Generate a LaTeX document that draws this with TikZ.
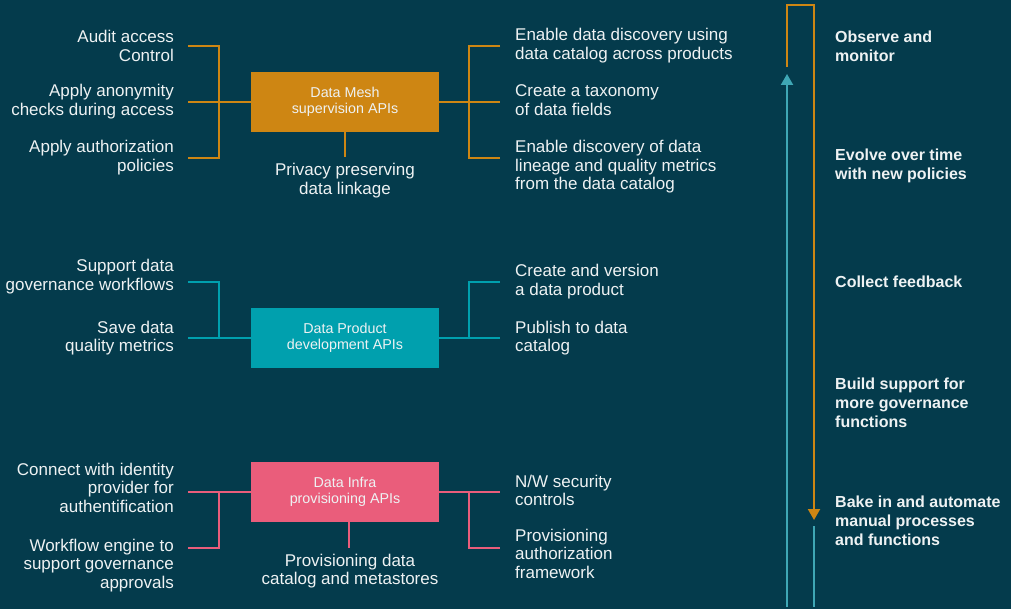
\documentclass[tikz,border=0pt]{standalone}
\usepackage{fontspec}
\setmainfont{Liberation Sans}
\usetikzlibrary{arrows.meta}
\definecolor{bg}{HTML}{043B4C}
\definecolor{fg}{HTML}{EEF2F3}
\definecolor{meshc}{HTML}{CE8613}
\definecolor{prodc}{HTML}{00A0AE}
\definecolor{infrac}{HTML}{EA5D7B}
\definecolor{loopc}{HTML}{3FA7B5}
\tikzset{
  txt/.style={text=fg, inner sep=0pt, font=\fontsize{17}{18.5}\selectfont},
  lefttxt/.style={txt, align=right, anchor=base east},
  righttxt/.style={txt, align=left, anchor=base west},
  midtxt/.style={txt, align=center, anchor=base},
  phase/.style={text=fg, inner sep=0pt, font=\bfseries\fontsize{16}{19}\selectfont, align=left, anchor=base west},
  api/.style={minimum width=188pt, minimum height=60pt, inner sep=0pt, text=fg, align=center, font=\fontsize{14.3}{15.7}\selectfont},
  wire/.style={line width=1.6pt},
  flow/.style={line width=2pt},
  tip/.style={-{Triangle[width=12pt,length=11pt]}},
}
\begin{document}
\begin{tikzpicture}[x=1pt,y=-1pt]
\fill[bg] (0,0) rectangle (1011,609);
\useasboundingbox (0,0) rectangle (1011,609);

% ---------- API boxes ----------
\node[api, fill=meshc]  (mesh)  at (345,102) {Data Mesh\\supervision APIs};
\node[api, fill=prodc]  (prod)  at (345,338) {Data Product\\development APIs};
\node[api, fill=infrac] (infra) at (345,492) {Data Infra\\provisioning APIs};

% ---------- supervision APIs (labels anchored on their last baseline) ----------
\node[lefttxt] (m1) at (174,61.5)  {Audit access\\Control};
\node[lefttxt] (m2) at (174,115.5) {Apply anonymity\\checks during access};
\node[lefttxt] (m3) at (174,171.5) {Apply authorization\\policies};
\node[righttxt] (m4) at (515,59.5)  {Enable data discovery using\\data catalog across products};
\node[righttxt] (m5) at (515,115.5) {Create a taxonomy\\of data fields};
\node[righttxt] (m6) at (515,190)   {Enable discovery of data\\lineage and quality metrics\\from the data catalog};
\node[midtxt]  (m7) at (345,194.5)  {Privacy preserving\\data linkage};

\coordinate (ma) at (188,46);  \coordinate (mb) at (188,102); \coordinate (mc) at (188,158);
\coordinate (md) at (500,46);  \coordinate (me) at (500,102); \coordinate (mf) at (500,158);
\coordinate (mg) at (345,157);
\coordinate (mj) at (219,0);   \coordinate (mk) at (469,0);
\draw[wire, meshc] (ma) -- (ma -| mj) -- (mc -| mj) -- (mc);
\draw[wire, meshc] (mb) -- (mesh.west);
\draw[wire, meshc] (md) -- (md -| mk) -- (mf -| mk) -- (mf);
\draw[wire, meshc] (mesh.east) -- (me);
\draw[wire, meshc] (mesh.south) -- (mg);

% ---------- development APIs ----------
\node[lefttxt] (p1) at (174,290.5) {Support data\\governance workflows};
\node[lefttxt] (p2) at (174,351.5) {Save data\\quality metrics};
\node[righttxt] (p3) at (515,295.5) {Create and version\\a data product};
\node[righttxt] (p4) at (515,351.5) {Publish to data\\catalog};

\coordinate (pa) at (188,282); \coordinate (pb) at (188,338);
\coordinate (pc) at (500,282); \coordinate (pd) at (500,338);
\draw[wire, prodc] (pa) -- (pa -| mj) -- (pb -| mj);
\draw[wire, prodc] (pb) -- (prod.west);
\draw[wire, prodc] (pc) -- (pc -| mk) -- (pd -| mk);
\draw[wire, prodc] (prod.east) -- (pd);

% ---------- provisioning APIs ----------
\node[lefttxt] (i1) at (174,512) {Connect with identity\\provider for\\authentification};
\node[lefttxt] (i2) at (174,588) {Workflow engine to\\support governance\\approvals};
\node[righttxt] (i3) at (515,505.5) {N/W security\\controls};
\node[righttxt] (i4) at (515,578) {Provisioning\\authorization\\framework};
\node[midtxt]  (i5) at (350,584.5) {Provisioning data\\catalog and metastores};

\coordinate (ia) at (188,492); \coordinate (ib) at (188,548);
\coordinate (ic) at (500,492); \coordinate (id) at (500,548);
\coordinate (ie) at (349,548);
\draw[wire, infrac] (ia) -- (infra.west);
\draw[wire, infrac] (ia -| mj) -- (ib -| mj) -- (ib);
\draw[wire, infrac] (infra.east) -- (ic);
\draw[wire, infrac] (ic -| mk) -- (id -| mk) -- (id);
\draw[wire, infrac] (ie |- infra.south) -- (ie);

% ---------- improvement loop ----------
\coordinate (ua) at (787,67);  \coordinate (ub) at (787,5);
\coordinate (uc) at (814,5);   \coordinate (ud) at (814,520);
\coordinate (ve) at (787,607); \coordinate (vf) at (787,74);
\coordinate (wg) at (814,526); \coordinate (wh) at (814,607);
\draw[flow, meshc, tip] (ua) -- (ub) -- (uc) -- (ud);
\draw[flow, loopc, tip] (ve) -- (vf);
\draw[flow, loopc] (wg) -- (wh);

\node[phase] (s1) at (835,62)  {Observe and\\monitor};
\node[phase] (s2) at (835,180) {Evolve over time\\with new policies};
\node[phase] (s3) at (835,288) {Collect feedback};
\node[phase] (s4) at (835,427) {Build support for\\more governance\\functions};
\node[phase] (s5) at (835,545) {Bake in and automate\\manual processes\\and functions};
\end{tikzpicture}
\end{document}
